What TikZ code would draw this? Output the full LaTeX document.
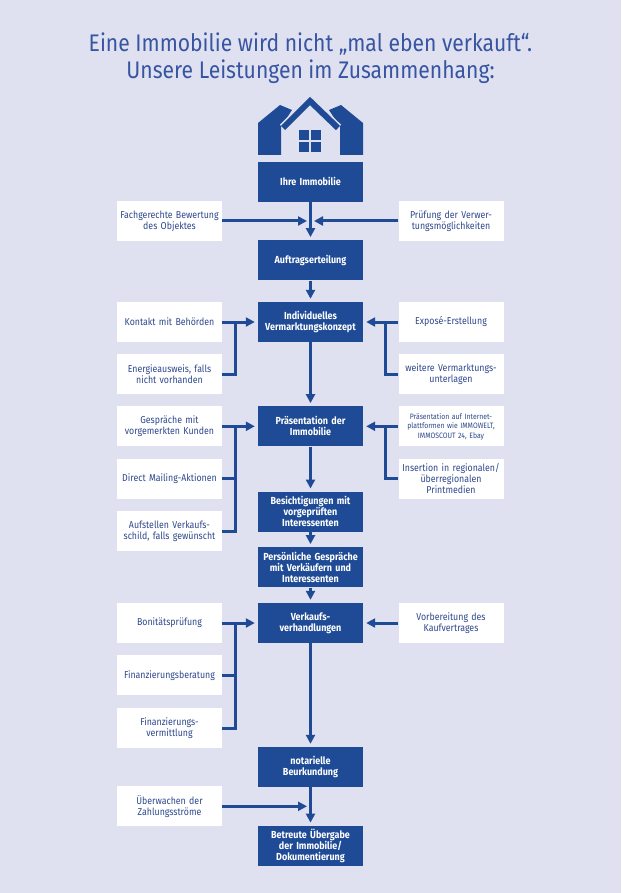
\documentclass[tikz,border=0pt]{standalone}
\usepackage{fontspec}
\setmainfont{Fira Sans}[FakeStretch=0.88]
\usetikzlibrary{arrows.meta}
\definecolor{hintergrund}{RGB}{223,225,241}
\definecolor{boxblau}{RGB}{31,75,150}
\definecolor{textblau}{RGB}{46,72,140}
\definecolor{titelblau}{RGB}{55,85,160}

\begin{document}
\begin{tikzpicture}[x=1pt,y=-1pt,font=\fontsize{10}{10.8}\selectfont]
\tikzstyle{leistung}=[fill=boxblau,text=white,font=\bfseries\fontsize{10.2}{11.2}\selectfont,minimum width=105pt,minimum height=40pt,text width=104pt,align=center,inner sep=0pt]
\tikzstyle{detail}=[fill=white,text=textblau,minimum width=105pt,minimum height=40pt,text width=104pt,align=center,inner sep=0pt]
\tikzstyle{pfeil}=[draw=boxblau,line width=3pt,-{Triangle[length=9pt,width=9pt]},shorten >=3pt]
\tikzstyle{linie}=[draw=boxblau,line width=3pt]
\fill[hintergrund] (0,0) rectangle (621,893);
\useasboundingbox (0,0) rectangle (621,893);
\node[text=titelblau,font=\fontsize{24}{27}\selectfont,align=center] (titel) at (310.5,58)
  {Eine Immobilie wird nicht „mal eben verkauft“.\\Unsere Leistungen im Zusammenhang:};
% Haus
\fill[boxblau] (258,155) -- (258,123) -- (280,105) -- (292,110) -- (281,127) -- (281,155) -- cycle;
\fill[boxblau] (363,155) -- (363,123) -- (341,105) -- (329,110) -- (340,127) -- (340,155) -- cycle;
\draw[hintergrund,line width=9pt] (283,128) -- (310,101) -- (338,128);
\draw[boxblau,line width=6pt] (283,128) -- (310,101) -- (338,128);
\fill[boxblau] (299,130) rectangle (321,152);
\draw[hintergrund,line width=1.5pt] (310,130) -- (310,152) (299,141) -- (321,141);
% Leistungen
\node[leistung] (ihre) at (310.5,181.7) {Ihre Immobilie};
\node[leistung] (auftrag) at (310.5,260.3) {Auftragserteilung};
\node[leistung] (konzept) at (310.5,322) {Individuelles\\Vermarktungskonzept};
\node[leistung] (praes) at (310.5,426.3) {Präsentation der\\Immobilie};
\node[leistung] (besicht) at (310.5,511.7) {Besichtigungen mit\\vorgeprüften\\Interessenten};
\node[leistung] (persoenlich) at (310.5,567.3) {Persönliche Gespräche\\mit Verkäufern und\\Interessenten};
\node[leistung] (verhand) at (310.5,623) {Verkaufs-\\verhandlungen};
\node[leistung] (notar) at (310.5,767) {notarielle\\Beurkundung};
\node[leistung] (uebergabe) at (310.5,845.8) {Betreute Übergabe\\der Immobilie/\\Dokumentierung};
% Details links
\node[detail] (bewertung) at (169.5,221) {Fachgerechte Bewertung\\des Objektes};
\node[detail] (kontakt) at (169.5,322) {Kontakt mit Behörden};
\node[detail] (energie) at (169.5,374) {Energieausweis, falls\\nicht vorhanden};
\node[detail] (vorgemerkt) at (169.5,426.3) {Gespräche mit\\vorgemerkten Kunden};
\node[detail] (mailing) at (169.5,478.7) {Direct Mailing-Aktionen};
\node[detail] (schild) at (169.5,531) {Aufstellen Verkaufs-\\schild, falls gewünscht};
\node[detail] (bonitaet) at (169.5,623) {Bonitätsprüfung};
\node[detail] (beratung) at (169.5,675.3) {Finanzierungsberatung};
\node[detail] (vermittlung) at (169.5,728) {Finanzierungs-\\vermittlung};
\node[detail] (zahlung) at (169.5,806.3) {Überwachen der\\Zahlungsströme};
% Details rechts
\node[detail] (verwertung) at (451,221) {Prüfung der Verwer-\\tungsmöglichkeiten};
\node[detail] (expose) at (451,322) {Exposé-Erstellung};
\node[detail] (unterlagen) at (451,374) {weitere Vermarktungs-\\unterlagen};
\node[detail,font=\fontsize{7.8}{9.5}\selectfont] (internet) at (451,426.3) {Präsentation auf Internet-\\plattformen wie IMMOWELT,\\IMMOSCOUT 24, Ebay};
\node[detail] (insertion) at (451,478.7) {Insertion in regionalen/\\überregionalen\\Printmedien};
\node[detail] (kaufvertrag) at (451,623) {Vorbereitung des\\Kaufvertrages};
\coordinate (lbus) at (235,0);
\coordinate (rbus) at (385.7,0);
% Hauptlinie
\draw[pfeil] (ihre) -- (auftrag);
\draw[pfeil] (auftrag) -- (konzept);
\draw[pfeil] (konzept) -- (praes);
\draw[pfeil] (praes) -- (besicht);
\draw[pfeil] (besicht) -- (persoenlich);
\draw[pfeil] (persoenlich) -- (verhand);
\draw[pfeil] (verhand) -- (notar);
\draw[pfeil] (notar) -- (uebergabe);
% Zuläufe
\draw[pfeil,shorten >=3.5pt] (bewertung.east) -- (bewertung.east -| ihre.south);
\draw[pfeil,shorten >=3.5pt] (verwertung.west) -- (verwertung.west -| ihre.south);
\draw[pfeil] (kontakt) -- (konzept);
\draw[linie] (energie.east) -| (lbus |- kontakt.east);
\draw[pfeil] (expose) -- (konzept);
\draw[linie] (unterlagen.west) -| (rbus |- expose.west);
\draw[pfeil] (vorgemerkt) -- (praes);
\draw[linie] (schild.east) -| (lbus |- vorgemerkt.east);
\draw[linie] (mailing.east) -- (lbus |- mailing.east);
\draw[pfeil] (internet) -- (praes);
\draw[linie] (insertion.west) -| (rbus |- internet.west);
\draw[pfeil] (bonitaet) -- (verhand);
\draw[linie] (vermittlung.east) -| (lbus |- bonitaet.east);
\draw[linie] (beratung.east) -- (lbus |- beratung.east);
\draw[pfeil] (kaufvertrag) -- (verhand);
\draw[pfeil,shorten >=3.5pt] (zahlung.east) -- (zahlung.east -| notar.south);
\end{tikzpicture}
\end{document}
